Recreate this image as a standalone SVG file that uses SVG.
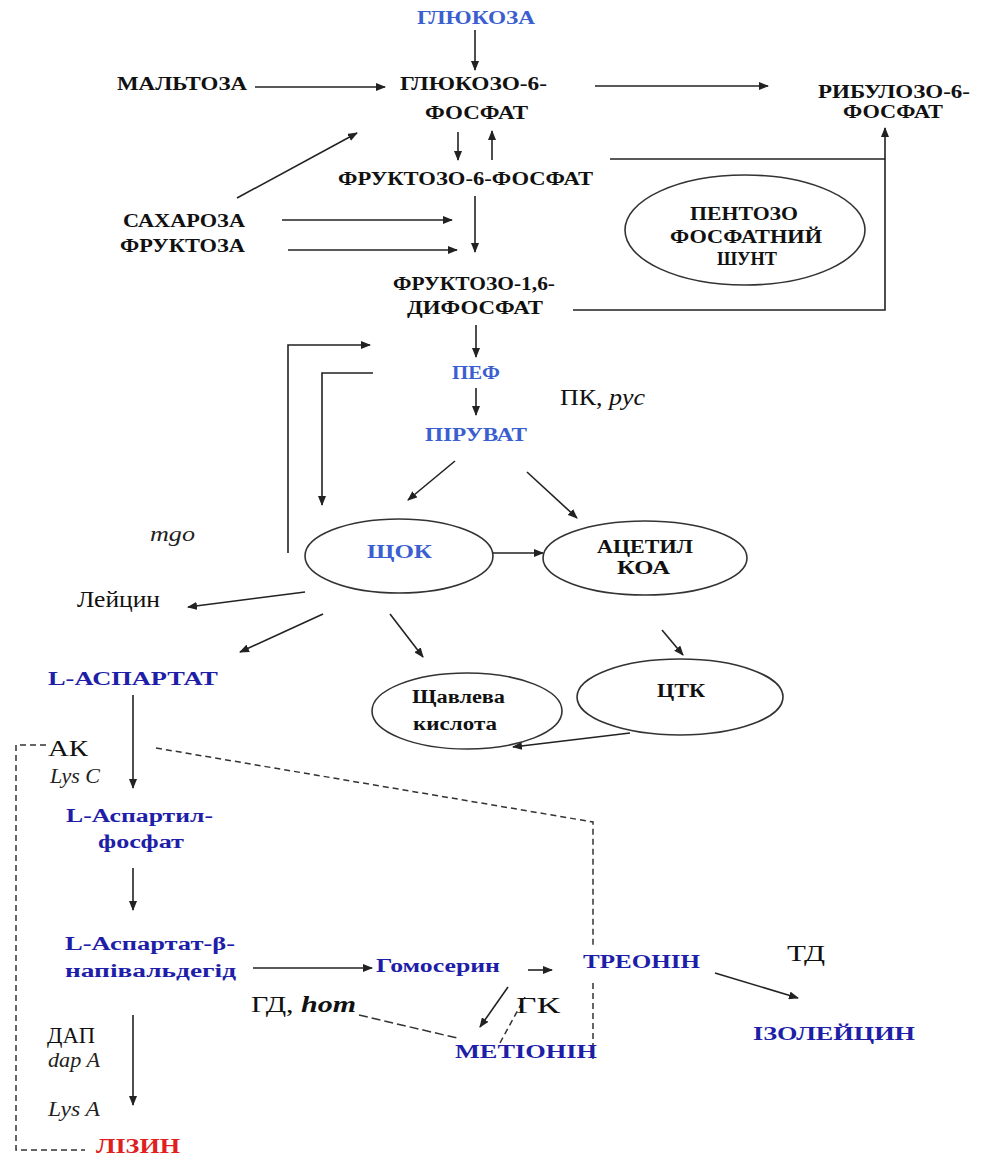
<svg xmlns="http://www.w3.org/2000/svg" width="984" height="1157" viewBox="0 0 984 1157">
<style>
text{font-family:"Liberation Serif","Times New Roman",serif;}
.b{font-weight:bold;font-size:18px;fill:#111;}
.lb{font-weight:bold;font-size:18px;fill:#3b5fd0;}
.db{font-weight:bold;font-size:18px;fill:#1e1ea8;}
.red{font-weight:bold;font-size:21px;fill:#e02020;}
.r{font-size:24px;fill:#111;}
.i{font-style:italic;font-size:20px;fill:#222;}
.ln{fill:none;stroke:#222;stroke-width:1.6;}
.ar{fill:none;stroke:#222;stroke-width:1.6;marker-end:url(#arr);}
.ds{fill:none;stroke:#333;stroke-width:1.5;stroke-dasharray:6,4;}
.el{fill:none;stroke:#333;stroke-width:1.6;}
</style>
<defs>
<marker id="arr" markerWidth="10" markerHeight="8" refX="9" refY="4" orient="auto" markerUnits="userSpaceOnUse">
<path d="M0,0 L10,4 L0,8 z" fill="#222"/>
</marker>
</defs>
<rect width="984" height="1157" fill="#fff"/>

<g id="connectors">
<path class="ar" d="M475,30 V70"/>
<path class="ar" d="M255,87 H385"/>
<path class="ar" d="M458,132 V160"/>
<path class="ar" d="M492,160 V131"/>
<path class="ar" d="M595,86 H768"/>
<path class="ln" d="M610,159 H885"/>
<path class="ar" d="M573,310 H885 V128"/>
<path class="ar" d="M237,198 L357,133"/>
<path class="ar" d="M282,220 H452"/>
<path class="ar" d="M288,250 H457"/>
<path class="ar" d="M475,196 V252"/>
<path class="ar" d="M476,325 V357"/>
<path class="ar" d="M288,553 V345 H370"/>
<path class="ar" d="M373,373 H322 V505"/>
<path class="ar" d="M476,388 V415"/>
<path class="ar" d="M455,461 L408,500"/>
<path class="ar" d="M527,472 L577,518"/>
<path class="ar" d="M493,553 H543"/>
<path class="ar" d="M305,592 L188,607"/>
<path class="ar" d="M323,614 L240,652"/>
<path class="ar" d="M390,614 L423,657"/>
<path class="ar" d="M662,630 L683,655"/>
<path class="ar" d="M630,733 L513,747"/>
<path class="ar" d="M133,695 V788"/>
<path class="ar" d="M133,868 V910"/>
<path class="ar" d="M253,968 H372"/>
<path class="ar" d="M528,970 H552"/>
<path class="ar" d="M715,973 L798,998"/>
<path class="ar" d="M508,987 L480,1027"/>
<path class="ar" d="M133,1015 V1105"/>
<path class="ds" d="M46,745 H16 V1150 H85"/>
<path class="ds" d="M156,748 L593,822 V945"/>
<path class="ds" d="M593,983 V1062"/>
<path class="ds" d="M359,1015 L457,1038" style="stroke-dasharray:9,4"/>
<path class="ds" d="M500,1043 L525,997"/>
</g>

<g id="glucose"><text class="lb" x="417" y="24" textLength="118" lengthAdjust="spacingAndGlyphs">ГЛЮКОЗА</text></g>
<g id="maltose"><text class="b" x="117" y="90" textLength="130" lengthAdjust="spacingAndGlyphs">МАЛЬТОЗА</text></g>
<g id="g6p">
<text class="b" x="400" y="90" textLength="147" lengthAdjust="spacingAndGlyphs">ГЛЮКОЗО-6-</text>
<text class="b" x="425" y="119" textLength="103" lengthAdjust="spacingAndGlyphs">ФОСФАТ</text>
</g>
<g id="ribulose">
<text class="b" x="818" y="98" textLength="152" lengthAdjust="spacingAndGlyphs">РИБУЛОЗО-6-</text>
<text class="b" x="843" y="118" textLength="100" lengthAdjust="spacingAndGlyphs">ФОСФАТ</text>
</g>
<g id="f6p"><text class="b" x="338" y="185" textLength="255" lengthAdjust="spacingAndGlyphs">ФРУКТОЗО-6-ФОСФАТ</text></g>
<g id="pentose">
<ellipse class="el" cx="745" cy="230" rx="120" ry="55"/>
<text class="b" x="690" y="220" textLength="108" lengthAdjust="spacingAndGlyphs">ПЕНТОЗО</text>
<text class="b" x="670" y="243" textLength="152" lengthAdjust="spacingAndGlyphs">ФОСФАТНИЙ</text>
<text class="b" x="717" y="265" textLength="60" lengthAdjust="spacingAndGlyphs">ШУНТ</text>
</g>
<g id="sucrose">
<text class="b" x="123" y="227" textLength="122" lengthAdjust="spacingAndGlyphs">САХАРОЗА</text>
<text class="b" x="120" y="252" textLength="125" lengthAdjust="spacingAndGlyphs">ФРУКТОЗА</text>
</g>
<g id="f16bp">
<text class="b" x="393" y="290" textLength="162" lengthAdjust="spacingAndGlyphs">ФРУКТОЗО-1,6-</text>
<text class="b" x="407" y="314" textLength="136" lengthAdjust="spacingAndGlyphs">ДИФОСФАТ</text>
</g>
<g id="pep"><text class="lb" x="452" y="379" textLength="48" lengthAdjust="spacingAndGlyphs">ПЕФ</text></g>
<g id="pk"><text class="r" x="560" y="405" font-size="21" textLength="85" lengthAdjust="spacingAndGlyphs">ПК, <tspan font-style="italic">pyc</tspan></text></g>
<g id="pyruvate"><text class="lb" x="425" y="441" textLength="102" lengthAdjust="spacingAndGlyphs">ПІРУВАТ</text></g>
<g id="mgo"><text class="i" x="150" y="541" textLength="45" lengthAdjust="spacingAndGlyphs">mgo</text></g>
<g id="oaa">
<ellipse class="el" cx="399" cy="556" rx="94" ry="37"/>
<text class="lb" x="367" y="558" textLength="65" lengthAdjust="spacingAndGlyphs">ЩОК</text>
</g>
<g id="acetylcoa">
<ellipse class="el" cx="645" cy="558" rx="102" ry="37"/>
<text class="b" x="597" y="553" textLength="96" lengthAdjust="spacingAndGlyphs">АЦЕТИЛ</text>
<text class="b" x="617" y="574" textLength="53" lengthAdjust="spacingAndGlyphs">КОА</text>
</g>
<g id="leucine"><text class="r" x="77" y="607" font-size="21" textLength="83" lengthAdjust="spacingAndGlyphs">Лейцин</text></g>
<g id="aspartate"><text class="db" x="48" y="685" textLength="170" lengthAdjust="spacingAndGlyphs">L-АСПАРТАТ</text></g>
<g id="oxalic">
<ellipse class="el" cx="467" cy="711" rx="95" ry="38"/>
<text class="b" x="412" y="703" font-size="17" textLength="93" lengthAdjust="spacingAndGlyphs">Щавлева</text>
<text class="b" x="413" y="730" font-size="17" textLength="84" lengthAdjust="spacingAndGlyphs">кислота</text>
</g>
<g id="tca">
<ellipse class="el" cx="680" cy="697" rx="103" ry="38"/>
<text class="b" x="657" y="697" textLength="48" lengthAdjust="spacingAndGlyphs">ЦТК</text>
</g>
<g id="ak">
<text class="r" x="48" y="756" textLength="40" lengthAdjust="spacingAndGlyphs">АК</text>
<text class="i" x="50" y="783" textLength="50" lengthAdjust="spacingAndGlyphs">Lys C</text>
</g>
<g id="aspartylphosphate">
<text class="db" x="66" y="822" textLength="147" lengthAdjust="spacingAndGlyphs">L-Аспартил-</text>
<text class="db" x="98" y="848" textLength="86" lengthAdjust="spacingAndGlyphs">фосфат</text>
</g>
<g id="semialdehyde">
<text class="db" x="65" y="950" textLength="170" lengthAdjust="spacingAndGlyphs">L-Аспартат-β-</text>
<text class="db" x="65" y="977" textLength="171" lengthAdjust="spacingAndGlyphs">напівальдегід</text>
</g>
<g id="homoserine"><text class="db" x="376" y="972" textLength="124" lengthAdjust="spacingAndGlyphs">Гомосерин</text></g>
<g id="threonine"><text class="db" x="583" y="968" textLength="117" lengthAdjust="spacingAndGlyphs">ТРЕОНІН</text></g>
<g id="td"><text class="r" x="787" y="961" textLength="38" lengthAdjust="spacingAndGlyphs">ТД</text></g>
<g id="isoleucine"><text class="db" x="753" y="1040" textLength="162" lengthAdjust="spacingAndGlyphs">ІЗОЛЕЙЦИН</text></g>
<g id="gd"><text class="r" x="251" y="1012" font-size="22" textLength="105" lengthAdjust="spacingAndGlyphs">ГД, <tspan font-style="italic" font-weight="bold">hom</tspan></text></g>
<g id="gk"><text class="r" x="516" y="1013" textLength="44" lengthAdjust="spacingAndGlyphs">ГК</text></g>
<g id="methionine"><text class="db" x="455" y="1058" textLength="142" lengthAdjust="spacingAndGlyphs">МЕТІОНІН</text></g>
<g id="dap">
<text class="r" x="47" y="1043" textLength="48" lengthAdjust="spacingAndGlyphs">ДАП</text>
<text class="i" x="48" y="1067" textLength="52" lengthAdjust="spacingAndGlyphs">dap A</text>
<text class="i" x="48" y="1116" textLength="52" lengthAdjust="spacingAndGlyphs">Lys A</text>
</g>
<g id="lysine"><text class="red" x="96" y="1153" textLength="84" lengthAdjust="spacingAndGlyphs">ЛІЗИН</text></g>
</svg>
